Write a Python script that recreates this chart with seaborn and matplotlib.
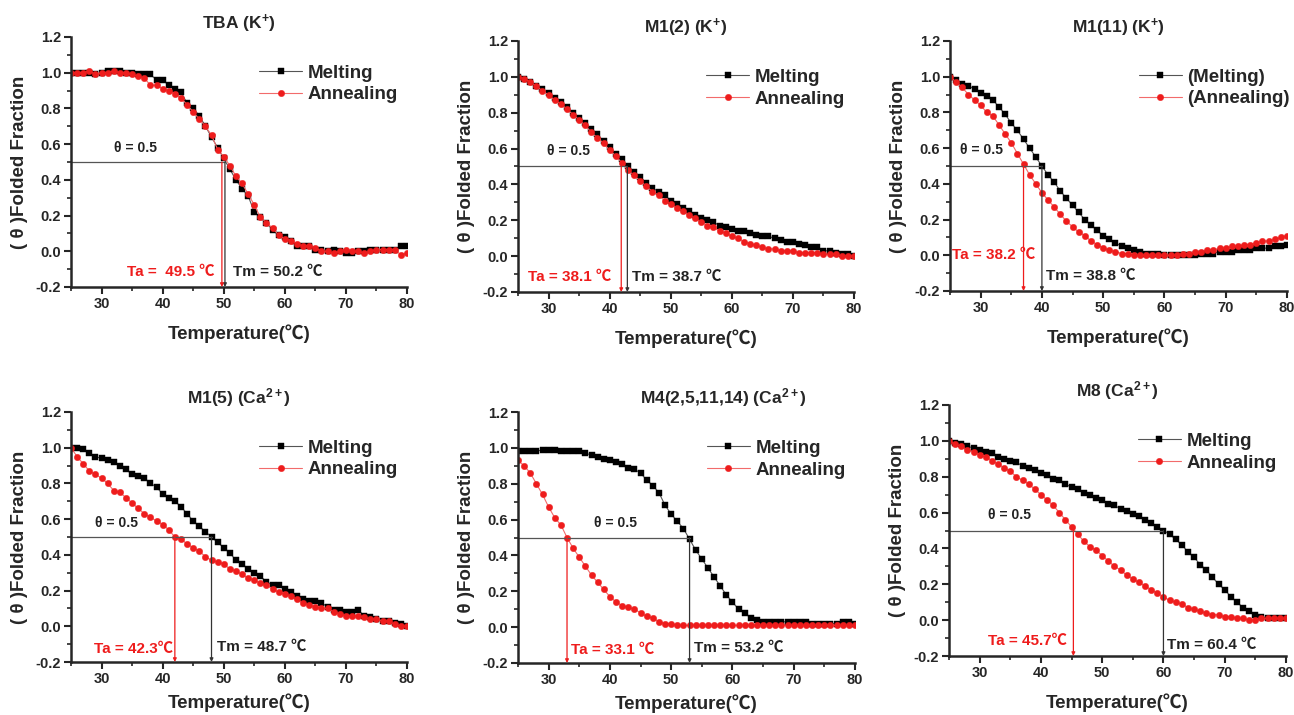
import pandas as pd
import matplotlib
matplotlib.use("Agg")
import matplotlib.pyplot as plt
from matplotlib.ticker import MultipleLocator
import seaborn as sns

sns.set_style("ticks")
plt.rcParams['font.family'] = ['Liberation Sans', 'Noto Sans CJK SC', 'DejaVu Sans']
plt.rcParams['font.weight'] = 'bold'
plt.rcParams['axes.unicode_minus'] = False
plt.rcParams['mathtext.fontset'] = 'custom'
plt.rcParams['mathtext.rm'] = 'Liberation Sans:bold'
plt.rcParams['mathtext.it'] = 'Liberation Sans:bold'
plt.rcParams['mathtext.bf'] = 'Liberation Sans:bold'
plt.rcParams['mathtext.default'] = 'rm'

# temperature grid (1 degree steps)
temp = list(range(25, 81))

titles = ["TBA (K$^{+}$)", "M1(2) (K$^{+}$)", "M1(11) (K$^{+}$)",
          "M1(5) (Ca$^{2+}$)", "M4(2,5,11,14) (Ca$^{2+}$)", "M8 (Ca$^{2+}$)"]

legend_labels = [["Melting", "Annealing"], ["Melting", "Annealing"],
                 ["(Melting)", "(Annealing)"], ["Melting", "Annealing"],
                 ["Melting", "Annealing"], ["Melting", "Annealing"]]

# TBA (K+)
tba_melt = [1.00, 1.00, 1.00, 1.00, 0.99, 1.00, 1.01, 1.01, 1.01, 1.00, 1.00, 0.99, 0.99, 0.99,
            0.96, 0.96, 0.93, 0.91, 0.89, 0.83, 0.80, 0.76, 0.70, 0.64, 0.58, 0.52, 0.46, 0.40,
            0.35, 0.31, 0.22, 0.19, 0.16, 0.12, 0.09, 0.08, 0.06, 0.03, 0.03, 0.03, 0.01, 0.01,
            0.00, 0.01, 0.00, -0.01, -0.01, 0.00, 0.00, 0.01, 0.01, 0.01, 0.01, 0.01, 0.03, 0.03]
tba_anneal = [1.00, 1.00, 1.00, 1.01, 0.99, 1.00, 1.00, 1.01, 1.00, 1.00, 0.99, 0.98, 0.97, 0.93,
              0.93, 0.91, 0.90, 0.88, 0.86, 0.82, 0.78, 0.74, 0.70, 0.65, 0.57, 0.53, 0.48, 0.42,
              0.38, 0.32, 0.26, 0.19, 0.16, 0.13, 0.09, 0.07, 0.06, 0.04, 0.03, 0.03, 0.02, 0.00,
              0.00, -0.01, 0.00, 0.01, 0.00, 0.00, -0.01, 0.00, 0.01, 0.01, 0.01, 0.01, -0.02, -0.01]

# M1(2) (K+)
m12_melt = [1.00, 0.99, 0.97, 0.95, 0.93, 0.91, 0.88, 0.86, 0.83, 0.80, 0.77, 0.74, 0.71, 0.68,
            0.64, 0.61, 0.57, 0.54, 0.50, 0.47, 0.44, 0.41, 0.38, 0.36, 0.34, 0.31, 0.29, 0.27,
            0.25, 0.23, 0.21, 0.20, 0.19, 0.17, 0.16, 0.15, 0.14, 0.14, 0.13, 0.12, 0.11, 0.11,
            0.10, 0.09, 0.08, 0.08, 0.07, 0.06, 0.05, 0.05, 0.03, 0.03, 0.02, 0.01, 0.01, 0.00]
m12_anneal = [1.00, 0.99, 0.97, 0.95, 0.92, 0.90, 0.87, 0.85, 0.82, 0.79, 0.76, 0.73, 0.69, 0.66,
              0.63, 0.59, 0.56, 0.52, 0.48, 0.45, 0.42, 0.39, 0.36, 0.34, 0.31, 0.29, 0.27, 0.25,
              0.23, 0.21, 0.19, 0.17, 0.16, 0.14, 0.13, 0.11, 0.10, 0.08, 0.07, 0.06, 0.05, 0.04,
              0.04, 0.03, 0.03, 0.03, 0.02, 0.02, 0.02, 0.02, 0.01, 0.01, 0.01, 0.00, 0.00, 0.00]

# M1(11) (K+)
m111_melt = [1.00, 0.98, 0.96, 0.95, 0.93, 0.91, 0.89, 0.87, 0.83, 0.79, 0.74, 0.70, 0.65, 0.60,
             0.55, 0.50, 0.45, 0.41, 0.36, 0.32, 0.28, 0.24, 0.20, 0.17, 0.14, 0.11, 0.09, 0.07,
             0.05, 0.04, 0.03, 0.02, 0.01, 0.01, 0.01, 0.00, 0.00, 0.00, 0.00, 0.00, 0.00, 0.01,
             0.01, 0.01, 0.02, 0.02, 0.02, 0.03, 0.03, 0.03, 0.04, 0.04, 0.04, 0.05, 0.05, 0.06]
m111_anneal = [1.00, 0.97, 0.94, 0.90, 0.87, 0.84, 0.80, 0.78, 0.73, 0.68, 0.63, 0.57, 0.51, 0.45,
               0.40, 0.35, 0.31, 0.27, 0.23, 0.19, 0.16, 0.13, 0.11, 0.08, 0.06, 0.04, 0.03, 0.02,
               0.01, 0.01, 0.00, 0.00, 0.00, 0.00, 0.00, 0.00, 0.00, 0.00, 0.01, 0.01, 0.02, 0.02,
               0.03, 0.03, 0.04, 0.04, 0.05, 0.05, 0.06, 0.06, 0.07, 0.08, 0.08, 0.09, 0.10, 0.11]

# M1(5) (Ca2+)
m15_melt = [1.00, 1.00, 0.99, 0.97, 0.95, 0.94, 0.93, 0.92, 0.90, 0.88, 0.85, 0.84, 0.83, 0.80,
            0.78, 0.74, 0.72, 0.70, 0.67, 0.63, 0.59, 0.56, 0.53, 0.50, 0.47, 0.44, 0.41, 0.37,
            0.35, 0.32, 0.30, 0.28, 0.25, 0.23, 0.23, 0.21, 0.19, 0.17, 0.15, 0.14, 0.14, 0.13,
            0.11, 0.09, 0.09, 0.08, 0.08, 0.09, 0.06, 0.05, 0.04, 0.03, 0.03, 0.02, 0.01, 0.00]
m15_anneal = [1.00, 0.95, 0.91, 0.87, 0.85, 0.83, 0.80, 0.76, 0.75, 0.72, 0.69, 0.66, 0.63, 0.61,
              0.59, 0.57, 0.54, 0.50, 0.49, 0.46, 0.44, 0.42, 0.39, 0.37, 0.36, 0.35, 0.32, 0.31,
              0.29, 0.27, 0.26, 0.24, 0.23, 0.21, 0.19, 0.18, 0.17, 0.15, 0.13, 0.12, 0.11, 0.10,
              0.10, 0.08, 0.07, 0.06, 0.06, 0.06, 0.05, 0.04, 0.04, 0.03, 0.03, 0.01, 0.00, 0.00]

# M4(2,5,11,14) (Ca2+)
m4_melt = [0.98, 0.98, 0.98, 0.98, 0.99, 0.99, 0.99, 0.98, 0.98, 0.98, 0.98, 0.97, 0.96, 0.95,
           0.94, 0.93, 0.92, 0.91, 0.89, 0.88, 0.86, 0.82, 0.79, 0.75, 0.68, 0.63, 0.59, 0.55,
           0.49, 0.43, 0.38, 0.33, 0.28, 0.23, 0.18, 0.14, 0.10, 0.08, 0.05, 0.04, 0.03, 0.03,
           0.03, 0.03, 0.03, 0.03, 0.03, 0.03, 0.02, 0.02, 0.02, 0.02, 0.02, 0.03, 0.03, 0.02]
m4_anneal = [0.93, 0.90, 0.86, 0.80, 0.74, 0.67, 0.61, 0.57, 0.50, 0.44, 0.39, 0.34, 0.29, 0.25,
             0.21, 0.17, 0.14, 0.12, 0.11, 0.10, 0.08, 0.06, 0.05, 0.03, 0.02, 0.02, 0.01, 0.01,
             0.01, 0.01, 0.01, 0.01, 0.01, 0.01, 0.01, 0.01, 0.01, 0.01, 0.01, 0.01, 0.01, 0.01,
             0.01, 0.01, 0.01, 0.01, 0.01, 0.01, 0.01, 0.01, 0.01, 0.01, 0.01, 0.01, 0.01, 0.01]

# M8 (Ca2+)
m8_melt = [1.00, 0.99, 0.98, 0.97, 0.96, 0.95, 0.94, 0.93, 0.91, 0.90, 0.89, 0.88, 0.86, 0.85,
           0.84, 0.82, 0.81, 0.79, 0.78, 0.76, 0.74, 0.73, 0.71, 0.70, 0.68, 0.67, 0.65, 0.64,
           0.62, 0.61, 0.59, 0.58, 0.56, 0.54, 0.52, 0.50, 0.48, 0.45, 0.42, 0.38, 0.35, 0.31,
           0.28, 0.24, 0.20, 0.17, 0.13, 0.10, 0.07, 0.05, 0.03, 0.02, 0.01, 0.01, 0.01, 0.01]
m8_anneal = [1.00, 0.98, 0.97, 0.95, 0.94, 0.92, 0.91, 0.89, 0.87, 0.85, 0.83, 0.80, 0.78, 0.76,
             0.73, 0.70, 0.67, 0.64, 0.60, 0.56, 0.52, 0.48, 0.44, 0.41, 0.39, 0.36, 0.33, 0.30,
             0.28, 0.25, 0.23, 0.21, 0.19, 0.17, 0.15, 0.13, 0.11, 0.10, 0.09, 0.07, 0.06, 0.05,
             0.04, 0.03, 0.03, 0.02, 0.02, 0.01, 0.01, 0.00, 0.00, 0.01, 0.01, 0.01, 0.01, 0.01]

melting = [tba_melt, m12_melt, m111_melt, m15_melt, m4_melt, m8_melt]
annealing = [tba_anneal, m12_anneal, m111_anneal, m15_anneal, m4_anneal, m8_anneal]

# where the theta=0.5 drop lines hit the axis
tm_line = [50.2, 42.9, 40.0, 48.0, 53.0, 60.0]
ta_line = [49.7, 41.9, 37.0, 42.0, 33.0, 45.3]
ta_text = ["Ta =  49.5 \u2103", "Ta = 38.1 \u2103", "Ta = 38.2 \u2103",
           "Ta = 42.3\u2103", "Ta = 33.1 \u2103", "Ta = 45.7\u2103"]
tm_text = ["Tm = 50.2 \u2103", "Tm = 38.7 \u2103", "Tm = 38.8 \u2103",
           "Tm = 48.7 \u2103", "Tm = 53.2 \u2103", "Tm = 60.4 \u2103"]

# layout (pixels of a 1294x715 figure: left, right, top, bottom)
W, H = 1294, 715
boxes = [(71, 407, 37, 287), (518, 854, 41, 292), (950, 1287, 41, 291),
         (71, 407, 412, 662), (518, 855, 412, 663), (949, 1286, 405, 656)]
title_x = [0.5, 0.5, 0.5, 0.5, 0.61, 0.5]
xlabel_y = [-0.15, -0.15, -0.15, -0.125, -0.125, -0.15]
theta_pos = [(32.0, 0.54), (29.7, 0.55), (26.6, 0.55), (28.9, 0.54), (37.4, 0.54), (31.4, 0.55)]
ta_pos = [(34.2, -0.14), (26.6, -0.14), (25.3, -0.02), (28.8, -0.15), (33.7, -0.15), (31.4, -0.14)]
tm_pos = [(51.5, -0.14), (43.7, -0.14), (40.7, -0.14), (48.9, -0.14), (53.8, -0.14), (60.6, -0.16)]

red = '#ee1c1c'
red_line = '#f26b6b'
black_line = '#555555'

fig = plt.figure(figsize=(W / 100, H / 100), dpi=100)

for i in range(6):
    l, r, t, b = boxes[i]
    ax = fig.add_axes([l / W, (H - b) / H, (r - l) / W, (b - t) / H])

    df = pd.DataFrame({
        'Temperature': temp + temp,
        'theta': melting[i] + annealing[i],
        'run': ['Melting'] * len(temp) + ['Annealing'] * len(temp),
    })
    sns.lineplot(data=df, x='Temperature', y='theta', hue='run', style='run',
                 markers={'Melting': 's', 'Annealing': 'o'}, dashes=False,
                 palette={'Melting': 'black', 'Annealing': red},
                 estimator=None, sort=False, legend=False, ax=ax)
    curves = ax.get_lines()[:2]
    curves[0].set_color(black_line)
    curves[0].set_markerfacecolor('black')
    curves[0].set_markeredgecolor('black')
    curves[0].set_markersize(4.0)
    curves[1].set_color(red_line)
    curves[1].set_markerfacecolor(red)
    curves[1].set_markeredgecolor(red)
    curves[1].set_markersize(4.6)
    for c in curves:
        c.set_linewidth(0.8)
        c.set_markeredgewidth(0.3)

    ax.legend(handles=curves, labels=legend_labels[i], loc='upper left',
              bbox_to_anchor=(0.56, 0.89), borderaxespad=0, borderpad=0,
              frameon=False, prop={'size': 13.5, 'weight': 'bold'},
              handlelength=2.3, handletextpad=0.3, labelspacing=0.25, numpoints=1)

    # theta = 0.5 guide and drop lines
    ax.plot([25, tm_line[i]], [0.5, 0.5], color=black_line, lw=0.9)
    ax.annotate('', xy=(tm_line[i], -0.2), xytext=(tm_line[i], 0.5),
                arrowprops=dict(arrowstyle='-|>', color='#333333', lw=0.9,
                                mutation_scale=5, shrinkA=0, shrinkB=0))
    ax.annotate('', xy=(ta_line[i], -0.2), xytext=(ta_line[i], 0.5),
                arrowprops=dict(arrowstyle='-|>', color=red, lw=0.9,
                                mutation_scale=5, shrinkA=0, shrinkB=0))

    ax.text(theta_pos[i][0], theta_pos[i][1], "\u03b8 = 0.5", fontsize=10,
            fontweight='bold', color='#222222', va='bottom')
    ax.text(ta_pos[i][0], ta_pos[i][1], ta_text[i], fontsize=11,
            fontweight='bold', color=red, va='baseline')
    ax.text(tm_pos[i][0], tm_pos[i][1], tm_text[i], fontsize=11,
            fontweight='bold', color='#222222', va='baseline')

    ax.set_xlim(25, 80)
    ax.set_ylim(-0.2, 1.2)
    ax.xaxis.set_major_locator(MultipleLocator(10))
    ax.xaxis.set_minor_locator(MultipleLocator(5))
    ax.yaxis.set_major_locator(MultipleLocator(0.2))
    ax.yaxis.set_minor_locator(MultipleLocator(0.1))
    ax.set_xticks([30, 40, 50, 60, 70, 80])
    ax.yaxis.set_major_formatter(plt.FormatStrFormatter('%.1f'))
    ax.tick_params(which='major', direction='out', length=5, width=1.5,
                   labelsize=10.5, pad=2)
    ax.tick_params(which='minor', direction='out', length=3, width=1.2)
    for lab in ax.get_xticklabels() + ax.get_yticklabels():
        lab.set_fontweight('bold')

    sns.despine(ax=ax)
    for side in ['left', 'bottom']:
        ax.spines[side].set_linewidth(1.8)

    ax.set_title(titles[i], fontsize=12.5, fontweight='bold', x=title_x[i], pad=6)
    ax.set_xlabel("Temperature(\u2103)", fontsize=13.5, fontweight='bold')
    ax.set_ylabel("( \u03b8 )Folded Fraction", fontsize=13.5, fontweight='bold')
    ax.xaxis.set_label_coords(0.5, xlabel_y[i])
    ax.yaxis.set_label_coords(-0.128, 0.5)

fig.savefig('out.png', dpi=100)
